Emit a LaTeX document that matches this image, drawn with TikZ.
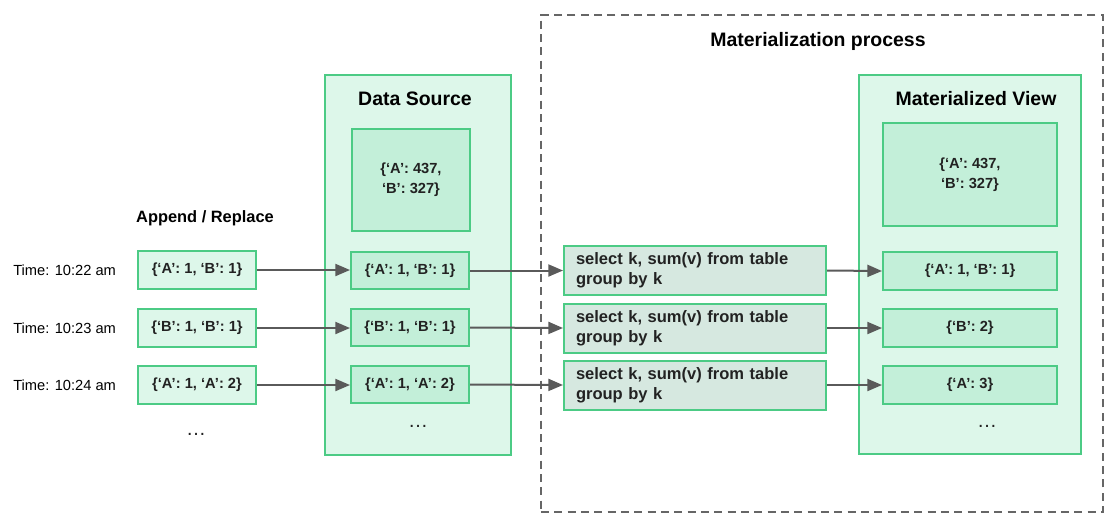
\documentclass[tikz,border=0pt]{standalone}
\usepackage{fontspec}
\setmainfont{Liberation Sans}
\usetikzlibrary{arrows.meta}
\definecolor{grn}{HTML}{4CCB85}
\definecolor{lightfill}{HTML}{DDF7EA}
\definecolor{midfill}{HTML}{C3EFD9}
\definecolor{selfill}{HTML}{D6E8E0}
\definecolor{arr}{HTML}{5A5A5A}
\definecolor{dashc}{HTML}{666666}
\definecolor{txt}{HTML}{222222}
\begin{document}
\begin{tikzpicture}[x=0.75pt,y=-0.75pt,
  container/.style={draw=grn, fill=lightfill, line width=1.5pt, inner sep=0pt},
  procbox/.style={draw=dashc, line width=1.5pt, dash pattern=on 6pt off 4pt, inner sep=0pt},
  boxtext/.style={font=\fontsize{11}{15}\selectfont\bfseries, text=txt, align=center},
  inbox/.style={boxtext, draw=grn, fill=lightfill, line width=1.5pt, minimum width=88.5pt, minimum height=28.5pt, inner sep=0pt},
  dsrow/.style={boxtext, draw=grn, fill=midfill, line width=1.5pt, minimum width=88.5pt, minimum height=27.75pt, inner sep=0pt},
  dstop/.style={boxtext, draw=grn, fill=midfill, line width=1.5pt, minimum width=88.5pt, minimum height=76.5pt, inner sep=0pt},
  mvrow/.style={boxtext, draw=grn, fill=midfill, line width=1.5pt, minimum width=130.5pt, minimum height=28.5pt, inner sep=0pt},
  mvtop/.style={boxtext, draw=grn, fill=midfill, line width=1.5pt, minimum width=130.5pt, minimum height=77.25pt, inner sep=0pt},
  selbox/.style={draw=grn, fill=selfill, line width=1.5pt, text width=178.5pt, inner xsep=9pt, inner ysep=0pt, minimum height=36.75pt, align=left, font=\fontsize{12.4}{15}\selectfont\bfseries, text=txt},
  title/.style={font=\fontsize{14.6}{17}\selectfont\bfseries, text=black},
  timelabel/.style={font=\fontsize{11}{13}\selectfont, text=black, anchor=west, inner sep=0pt},
  dots/.style={font=\fontsize{15}{17}\selectfont, text=txt},
  arrow/.style={draw=arr, line width=1.5pt, -{Triangle[length=11pt,width=9pt]}}
]
\useasboundingbox (0,0) rectangle (1119,522);

% containers
\node[procbox, minimum width=421.5pt, minimum height=372.75pt] (proc) at (822,263.5) {};
\node[container, minimum width=139.5pt, minimum height=285pt] (ds) at (418,265) {};
\node[container, minimum width=166.5pt, minimum height=284.25pt] (mv) at (970,264.5) {};

% titles
\node[title] (proctitle) at (818,41) {Materialization process};
\node[title] (dstitle) at (415,99) {Data Source};
\node[title] (mvtitle) at (976,99) {Materialized View};
\node[font=\fontsize{12.3}{14}\selectfont\bfseries] (apptitle) at (205,218) {Append / Replace};

% time labels
\node[timelabel] (t1) at (13,270) {Time: 10:22 am};
\node[timelabel] (t2) at (13,328) {Time: 10:23 am};
\node[timelabel] (t3) at (13,385) {Time: 10:24 am};

% input boxes
\node[inbox] (in1) at (197,270) {\{‘A’: 1, ‘B’: 1\}};
\node[inbox] (in2) at (197,328) {\{‘B’: 1, ‘B’: 1\}};
\node[inbox] (in3) at (197,385) {\{‘A’: 1, ‘A’: 2\}};
\node[dots] (indots) at (196,434) {…};

% data source
\node[dstop] (dstop) at (411,180) {\{‘A’: 437,\\‘B’: 327\}};
\node[dsrow] (ds1) at (410,270.5) {\{‘A’: 1, ‘B’: 1\}};
\node[dsrow] (ds2) at (410,327.5) {\{‘B’: 1, ‘B’: 1\}};
\node[dsrow] (ds3) at (410,384.5) {\{‘A’: 1, ‘A’: 2\}};
\node[dots] (dsdots) at (418,426) {…};

% select boxes
\node[selbox] (s1) at (695,270.5) {select k, sum(v) from table\\group by k};
\node[selbox] (s2) at (695,328) {select k, sum(v) from table\\group by k};
\node[selbox] (s3) at (695,385) {select k, sum(v) from table\\group by k};

% materialized view
\node[mvtop] (mvtop) at (970,174.5) {\{‘A’: 437,\\‘B’: 327\}};
\node[mvrow] (mv1) at (970,271) {\{‘A’: 1, ‘B’: 1\}};
\node[mvrow] (mv2) at (970,328) {\{‘B’: 2\}};
\node[mvrow] (mv3) at (970,385) {\{‘A’: 3\}};
\node[dots] (mvdots) at (987,426) {…};

% arrows
\draw[arrow] (in1.east) -- (ds1.west |- in1.east);
\draw[arrow] (in2.east) -- (ds2.west |- in2.east);
\draw[arrow] (in3.east) -- (ds3.west |- in3.east);
\draw[arrow] (ds1.east) -- (s1.west);
\draw[arrow] (ds2.east) -- (s2.west);
\draw[arrow] (ds3.east) -- (s3.west);
\draw[arrow] (s1.east) -- (mv1.west);
\draw[arrow] (s2.east) -- (mv2.west);
\draw[arrow] (s3.east) -- (mv3.west);
\end{tikzpicture}
\end{document}
